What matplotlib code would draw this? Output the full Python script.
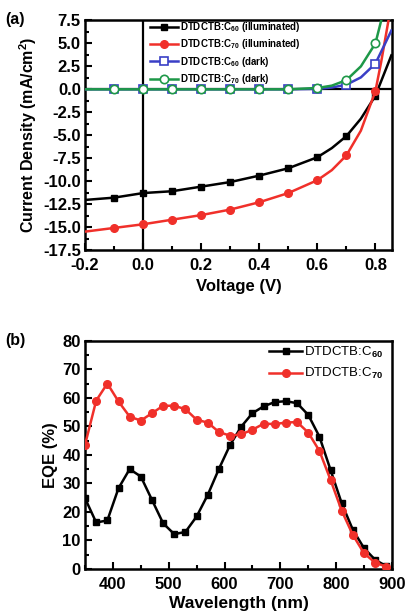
import matplotlib
matplotlib.use("Agg")
import matplotlib.pyplot as plt
from matplotlib.ticker import MultipleLocator

plt.rcParams['font.family'] = ['Liberation Sans', 'DejaVu Sans']
plt.rcParams['font.weight'] = 'bold'
plt.rcParams['mathtext.fontset'] = 'custom'
plt.rcParams['mathtext.rm'] = 'Liberation Sans:bold'
plt.rcParams['mathtext.it'] = 'Liberation Sans:bold'
plt.rcParams['mathtext.bf'] = 'Liberation Sans:bold'
plt.rcParams['mathtext.default'] = 'rm'

# ---------------- Panel (a) data: J-V curves ----------------
v_c60_ill = [-0.2, -0.1, 0.0, 0.1, 0.2, 0.3, 0.4, 0.5, 0.6, 0.65, 0.7, 0.75, 0.8, 0.855]
j_c60_ill = [-12.05, -11.8, -11.3, -11.1, -10.6, -10.1, -9.4, -8.6, -7.4, -6.4, -5.1, -3.2, -0.7, 3.7]

v_c70_ill = [-0.2, -0.1, 0.0, 0.1, 0.2, 0.3, 0.4, 0.5, 0.6, 0.65, 0.7, 0.75, 0.8, 0.82, 0.845]
j_c70_ill = [-15.5, -15.1, -14.7, -14.2, -13.7, -13.1, -12.3, -11.3, -9.9, -8.8, -7.2, -4.5, -0.2, 3.0, 7.5]

v_c60_dark = [-0.2, -0.1, 0.0, 0.1, 0.2, 0.3, 0.4, 0.5, 0.6, 0.65, 0.7, 0.75, 0.8, 0.855]
j_c60_dark = [0.0, 0.0, 0.0, 0.0, 0.0, 0.0, 0.0, 0.0, 0.05, 0.2, 0.5, 1.3, 2.8, 6.4]

v_c70_dark = [-0.2, -0.1, 0.0, 0.1, 0.2, 0.3, 0.4, 0.5, 0.6, 0.65, 0.7, 0.75, 0.8, 0.82]
j_c70_dark = [0.0, 0.0, 0.0, 0.0, 0.0, 0.0, 0.0, 0.0, 0.15, 0.4, 1.0, 2.5, 5.0, 7.5]

# marker voltages (every 0.1 V)
v_markers = [-0.1, 0.0, 0.1, 0.2, 0.3, 0.4, 0.5, 0.6, 0.7, 0.8]

labels_a = ['DTDCTB:C$_{60}$ (illuminated)', 'DTDCTB:C$_{70}$ (illuminated)',
            'DTDCTB:C$_{60}$ (dark)', 'DTDCTB:C$_{70}$ (dark)']

# ---------------- Panel (b) data: EQE ----------------
wl = [350, 370, 390, 410, 430, 450, 470, 490, 510, 530, 550, 570, 590, 610,
      630, 650, 670, 690, 710, 730, 750, 770, 790, 810, 830, 850, 870, 890]
eqe_c60 = [24.8, 16.3, 17.0, 28.3, 35.0, 32.4, 24.2, 16.0, 12.2, 13.0, 18.4, 26.0, 35.1, 43.5,
           49.9, 54.6, 57.0, 58.5, 58.8, 58.1, 54.0, 46.4, 34.7, 23.0, 13.7, 7.3, 3.2, 1.0]
eqe_c70 = [43.5, 59.0, 65.0, 58.7, 53.4, 52.0, 54.6, 57.2, 57.2, 56.0, 52.3, 51.3, 48.0, 46.7,
           47.2, 48.8, 50.9, 50.8, 51.3, 51.5, 47.8, 41.4, 31.2, 20.4, 11.9, 5.5, 2.2, 0.8]
labels_b = ['DTDCTB:C$_{60}$', 'DTDCTB:C$_{70}$']

BLACK = '#000000'
RED = '#f0302a'
BLUE = '#3a3fc6'
GREEN = '#1e9848'

fig = plt.figure(figsize=(4.06, 6.13), dpi=100)
axa = fig.add_axes([0.2094, 0.5922, 0.756, 0.3744])
axb = fig.add_axes([0.2094, 0.0718, 0.756, 0.3724])


def marker_idx(xs, marks):
    return [i for i, x in enumerate(xs) if any(abs(x - m) < 1e-9 for m in marks)]


lw = 1.8
axa.axhline(0, color='black', lw=1.6, zorder=1)
axa.axvline(0, color='black', lw=1.6, zorder=1)
axa.plot(v_c60_ill, j_c60_ill, color=BLACK, lw=lw, marker='s', ms=5,
         markevery=marker_idx(v_c60_ill, v_markers), label=labels_a[0], zorder=3)
axa.plot(v_c70_ill, j_c70_ill, color=RED, lw=lw, marker='o', ms=5.5,
         markevery=marker_idx(v_c70_ill, v_markers), label=labels_a[1], zorder=3)
axa.plot(v_c60_dark, j_c60_dark, color=BLUE, lw=lw, marker='s', ms=5.5, mfc='white',
         mew=1.2, markevery=marker_idx(v_c60_dark, v_markers), label=labels_a[2], zorder=4)
axa.plot(v_c70_dark, j_c70_dark, color=GREEN, lw=lw, marker='o', ms=6, mfc='white',
         mew=1.2, markevery=marker_idx(v_c70_dark, v_markers), label=labels_a[3], zorder=5)

axa.set_xlim(-0.2, 0.857)
axa.set_ylim(-17.5, 7.5)
axa.xaxis.set_minor_locator(MultipleLocator(0.1))
axa.yaxis.set_minor_locator(MultipleLocator(1.25))
axa.set_xticks([-0.2, 0.0, 0.2, 0.4, 0.6, 0.8])
axa.set_xticklabels(['-0.2', '0.0', '0.2', '0.4', '0.6', '0.8'])
axa.set_yticks([7.5, 5.0, 2.5, 0.0, -2.5, -5.0, -7.5, -10.0, -12.5, -15.0, -17.5])
axa.set_yticklabels(['7.5', '5.0', '2.5', '0.0', '-2.5', '-5.0', '-7.5', '-10.0',
                     '-12.5', '-15.0', '-17.5'])
axa.set_xlabel('Voltage (V)', fontsize=12, fontweight='bold', labelpad=4)
axa.set_ylabel('Current Density (mA/cm$^2$)', fontsize=11.5, fontweight='bold', labelpad=3)
leg = axa.legend(loc='upper left', bbox_to_anchor=(0.205, 1.01), frameon=False,
                 fontsize=7, handlelength=2.9, handletextpad=0.2, labelspacing=0.34,
                 borderaxespad=0, borderpad=0.2)
for t in leg.get_texts():
    t.set_fontweight('bold')
fig.text(0.012, 0.968, '(a)', fontsize=11.5, fontweight='bold', va='center', ha='left')

axb.plot(wl, eqe_c60, color=BLACK, lw=lw, marker='s', ms=4.5, label=labels_b[0], zorder=3)
axb.plot(wl, eqe_c70, color=RED, lw=lw, marker='o', ms=5.5, label=labels_b[1], zorder=4)
axb.set_xlim(350, 900)
axb.set_ylim(0, 80)
axb.xaxis.set_major_locator(MultipleLocator(100))
axb.xaxis.set_minor_locator(MultipleLocator(50))
axb.yaxis.set_major_locator(MultipleLocator(10))
axb.yaxis.set_minor_locator(MultipleLocator(5))
axb.set_xlabel('Wavelength (nm)', fontsize=12.5, fontweight='bold', labelpad=3)
axb.set_ylabel('EQE (%)', fontsize=12, fontweight='bold', labelpad=3)
legb = axb.legend(loc='upper right', bbox_to_anchor=(0.985, 1.0), frameon=False,
                  fontsize=9.5, handlelength=2.5, handletextpad=0.15, labelspacing=0.5,
                  borderaxespad=0, borderpad=0.3)
for t in legb.get_texts():
    t.set_fontweight('normal')
fig.text(0.012, 0.444, '(b)', fontsize=11.5, fontweight='bold', va='center', ha='left')

for ax in (axa, axb):
    for sp in ax.spines.values():
        sp.set_linewidth(1.8)
    ax.tick_params(which='both', direction='in', top=False, right=False, width=1.5)
    ax.tick_params(which='major', length=5, labelsize=12)
    ax.tick_params(which='minor', length=3)
    ax.tick_params(axis='y', which='major', pad=3)
    ax.tick_params(axis='x', which='major', pad=6)
    for lab in ax.get_xticklabels() + ax.get_yticklabels():
        lab.set_fontweight('bold')

fig.savefig('out.png', dpi=100)
